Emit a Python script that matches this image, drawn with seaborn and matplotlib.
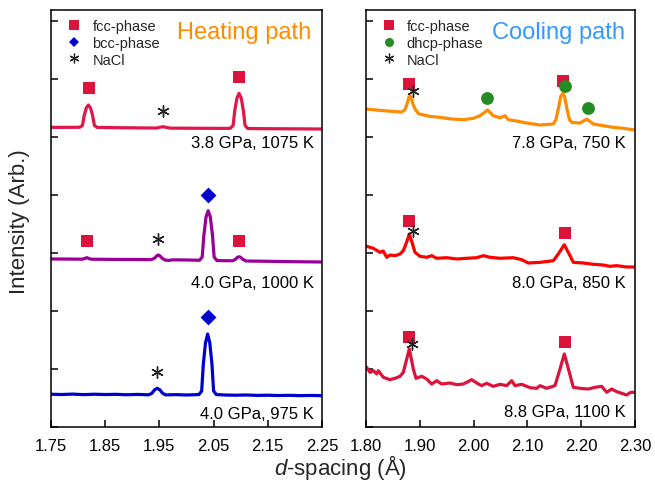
import numpy as np
import pandas as pd
import matplotlib
matplotlib.use("Agg")
import matplotlib.pyplot as plt
from matplotlib.lines import Line2D
import seaborn as sns

# ---------------- data ----------------
# Heating path (left panel)
heat1_label = "3.8 GPa, 1075 K"
heat1_d = [1.75, 1.77, 1.79, 1.803, 1.808, 1.811, 1.815, 1.819, 1.823, 1.827, 1.830, 1.835,
           1.86, 1.90, 1.945, 1.951, 1.957, 1.963, 1.97, 2.00, 2.04, 2.07, 2.081, 2.086,
           2.089, 2.093, 2.097, 2.101, 2.105, 2.108, 2.113, 2.14, 2.18, 2.22, 2.25]
heat1_I = [5.167, 5.166, 5.167, 5.168, 5.20, 5.36, 5.50, 5.552, 5.50, 5.36, 5.20, 5.166,
           5.162, 5.158, 5.155, 5.168, 5.178, 5.165, 5.153, 5.152, 5.150, 5.149, 5.150, 5.20,
           5.45, 5.67, 5.753, 5.67, 5.45, 5.20, 5.147, 5.144, 5.142, 5.140, 5.138]

heat2_label = "4.0 GPa, 1000 K"
heat2_d = [1.75, 1.77, 1.79, 1.808, 1.812, 1.816, 1.820, 1.824, 1.86, 1.90, 1.935, 1.941,
           1.945, 1.948, 1.951, 1.955, 1.960, 1.966, 1.975, 2.00, 2.024, 2.029, 2.032, 2.036,
           2.040, 2.044, 2.048, 2.051, 2.056, 2.065, 2.085, 2.090, 2.094, 2.097, 2.100, 2.104,
           2.110, 2.15, 2.20, 2.25]
heat2_I = [2.897, 2.896, 2.895, 2.894, 2.905, 2.920, 2.905, 2.893, 2.890, 2.888, 2.886, 2.910,
           2.950, 2.966, 2.950, 2.910, 2.880, 2.872, 2.882, 2.880, 2.875, 2.930, 3.300, 3.620,
           3.729, 3.620, 3.300, 2.930, 2.870, 2.868, 2.866, 2.890, 2.925, 2.936, 2.925, 2.890,
           2.862, 2.857, 2.850, 2.845]

heat3_label = "4.0 GPa, 975 K"
heat3_d = [1.75, 1.77, 1.79, 1.81, 1.83, 1.85, 1.87, 1.89, 1.91, 1.93, 1.936, 1.941, 1.946,
           1.951, 1.956, 1.962, 1.98, 2.00, 2.015, 2.023, 2.028, 2.031, 2.035, 2.039, 2.043,
           2.047, 2.050, 2.055, 2.07, 2.09, 2.11, 2.13, 2.15, 2.17, 2.19, 2.21, 2.23, 2.25]
heat3_I = [0.565, 0.560, 0.567, 0.558, 0.565, 0.560, 0.563, 0.556, 0.562, 0.555, 0.580, 0.640,
           0.667, 0.640, 0.580, 0.553, 0.558, 0.552, 0.556, 0.560, 0.620, 1.080, 1.450, 1.603,
           1.450, 1.080, 0.620, 0.560, 0.552, 0.548, 0.552, 0.545, 0.548, 0.543, 0.546, 0.541,
           0.544, 0.540]

# Cooling path (right panel)
cool1_label = "7.8 GPa, 750 K"
cool1_d = [1.800, 1.832, 1.866, 1.872, 1.876, 1.8795, 1.8818, 1.884, 1.8875, 1.892, 1.898,
           1.919, 1.9375, 1.9593, 1.9809, 1.9995, 2.0119, 2.0262, 2.0366, 2.049, 2.0584,
           2.0645, 2.080, 2.0987, 2.1234, 2.148, 2.153, 2.1575, 2.162, 2.1656, 2.169, 2.1735,
           2.178, 2.183, 2.1978, 2.2102, 2.2225, 2.2411, 2.2597, 2.2783, 2.2968, 2.300]
cool1_I = [5.483, 5.454, 5.430, 5.470, 5.560, 5.680, 5.712, 5.680, 5.560, 5.470, 5.400,
           5.356, 5.339, 5.310, 5.299, 5.322, 5.367, 5.466, 5.367, 5.333, 5.367,
           5.299, 5.276, 5.241, 5.207, 5.224, 5.300, 5.490, 5.700, 5.753, 5.700, 5.490,
           5.300, 5.250, 5.241, 5.310, 5.224, 5.195, 5.167, 5.150, 5.126, 5.120]

cool2_label = "8.0 GPa, 850 K"
cool2_d = [1.8012, 1.8136, 1.826, 1.832, 1.8385, 1.8446, 1.8539, 1.8632, 1.8693, 1.8760,
           1.8805, 1.8850, 1.891, 1.9004, 1.9128, 1.9221, 1.9314, 1.950, 1.9686, 1.9872,
           2.0058, 2.018, 2.0305, 2.0491, 2.0738, 2.0894, 2.1017, 2.1234, 2.1481, 2.1574,
           2.1686, 2.1792, 2.1853, 2.2039, 2.2225, 2.2411, 2.2535, 2.266, 2.2846, 2.300]
cool2_I = [3.116, 3.081, 3.012, 3.034, 2.926, 2.966, 2.954, 2.983, 3.040, 3.200,
           3.328, 3.200, 3.012, 2.943, 2.926, 2.954, 2.909, 2.919, 2.897, 2.909,
           2.919, 2.954, 2.926, 2.909, 2.919, 2.885, 2.828, 2.839, 2.867, 2.983,
           3.143, 2.954, 2.839, 2.828, 2.805, 2.793, 2.770, 2.782, 2.759, 2.759]

cool3_label = "8.8 GPa, 1100 K"
cool3_d = [1.8012, 1.8074, 1.8136, 1.8199, 1.8229, 1.8322, 1.8446, 1.8539, 1.8632, 1.8693,
           1.8805, 1.888, 1.893, 1.9035, 1.9128, 1.9221, 1.9314, 1.9407, 1.9561, 1.9686,
           1.9809, 1.9964, 2.0058, 2.015, 2.0243, 2.0366, 2.0491, 2.0615, 2.0708, 2.077,
           2.0894, 2.1048, 2.1173, 2.1234, 2.1359, 2.1513, 2.1606, 2.1686, 2.1779, 2.1853,
           2.1978, 2.2132, 2.2257, 2.2381, 2.2474, 2.2567, 2.266, 2.2846, 2.292, 2.300]
cool3_I = [1.029, 0.943, 0.971, 0.914, 0.971, 0.857, 0.816, 0.839, 0.874, 0.943,
           1.345, 1.000, 0.839, 0.874, 0.828, 0.741, 0.798, 0.741, 0.759, 0.729,
           0.741, 0.816, 0.759, 0.713, 0.753, 0.701, 0.736, 0.713, 0.798, 0.713,
           0.736, 0.678, 0.667, 0.713, 0.667, 0.713, 1.000, 1.259, 0.943, 0.684,
           0.667, 0.655, 0.684, 0.701, 0.598, 0.655, 0.609, 0.552, 0.598, 0.598]

# Peak markers (d, intensity)
heat_fcc_d = [1.820, 2.097, 1.816, 2.097]
heat_fcc_I = [5.84, 6.04, 3.21, 3.21]
heat_bcc_d = [2.040, 2.039]
heat_bcc_I = [4.00, 1.89]
heat_nacl_d = [1.957, 1.948, 1.946]
heat_nacl_I = [5.45, 3.24, 0.95]

cool_fcc_d = [1.8806, 2.1656, 1.8806, 2.1699, 1.8806, 2.1699]
cool_fcc_I = [5.914, 5.96, 3.547, 3.345, 1.547, 1.46]
cool_dhcp_d = [2.0255, 2.170, 2.212]
cool_dhcp_I = [5.667, 5.874, 5.50]
cool_nacl_d = [1.888, 1.888, 1.885]
cool_nacl_I = [5.788, 3.384, 1.431]

heat_xticks = [1.75, 1.85, 1.95, 2.05, 2.15, 2.25]
cool_xticks = [1.80, 1.90, 2.00, 2.10, 2.20, 2.30]
y_ticks = [0, 1, 2, 3, 4, 5, 6, 7]

# ---------------- style ----------------
sns.set_theme(style="ticks")
plt.rcParams["font.family"] = ["Liberation Sans", "DejaVu Sans"]
plt.rcParams["mathtext.fontset"] = "custom"
plt.rcParams["mathtext.rm"] = "Liberation Sans"
plt.rcParams["mathtext.it"] = "Liberation Sans:italic"
plt.rcParams["axes.linewidth"] = 1.1

C_FCC = "#DC143C"
C_BCC = "#0000CD"
C_DHCP = "#228B22"
ASTER = (6, 2, 0)

fig = plt.figure(figsize=(6.55, 4.85), dpi=100)
axL = fig.add_axes([51 / 655, 57 / 485, 271 / 655, 417 / 485])
axR = fig.add_axes([366 / 655, 57 / 485, 269 / 655, 417 / 485])

LW = 2.3
for d, I, c in [(heat1_d, heat1_I, "#E0174A"), (heat2_d, heat2_I, "#990099"),
                (heat3_d, heat3_I, "#0000CC")]:
    sns.lineplot(x=d, y=I, ax=axL, color=c, linewidth=LW, estimator=None, sort=False)
for d, I, c in [(cool1_d, cool1_I, "#FF8C00"), (cool2_d, cool2_I, "#FF0000"),
                (cool3_d, cool3_I, "#DC143C")]:
    sns.lineplot(x=d, y=I, ax=axR, color=c, linewidth=LW, estimator=None, sort=False)

MS = 75
sns.scatterplot(x=heat_fcc_d, y=heat_fcc_I, ax=axL, marker="s", color=C_FCC, s=MS, linewidth=0, zorder=5)
sns.scatterplot(x=heat_bcc_d, y=heat_bcc_I, ax=axL, marker="D", color=C_BCC, s=65, linewidth=0, zorder=5)
axL.scatter(heat_nacl_d, heat_nacl_I, marker=ASTER, color="#222222", s=70, linewidths=1.0, zorder=5)

sns.scatterplot(x=cool_fcc_d, y=cool_fcc_I, ax=axR, marker="s", color=C_FCC, s=MS, linewidth=0, zorder=5)
sns.scatterplot(x=cool_dhcp_d, y=cool_dhcp_I, ax=axR, marker="o", color=C_DHCP, s=85, linewidth=0, zorder=5)
axR.scatter(cool_nacl_d, cool_nacl_I, marker=ASTER, color="#222222", s=70, linewidths=1.0, zorder=6)

# condition labels
for txt, y in [(heat1_label, 4.897), (heat2_label, 2.50), (heat3_label, 0.24)]:
    axL.text(2.2352, y, txt, ha="right", va="center", fontsize=12, color="black")
for txt, y in [(cool1_label, 4.897), (cool2_label, 2.50), (cool3_label, 0.26)]:
    axR.text(2.2833, y, txt, ha="right", va="center", fontsize=12, color="black")

axL.text(1.982, 6.81, "Heating path", ha="left", va="center", fontsize=17, color="#FF8C00")
axR.text(2.034, 6.81, "Cooling path", ha="left", va="center", fontsize=17, color="#3399FF")

# legends
def handle(marker, color, ms, mew=0):
    return Line2D([], [], linestyle="None", marker=marker, color=color, markersize=ms,
                  markeredgewidth=mew)

legL = axL.legend(handles=[handle("s", C_FCC, 6.5), handle("D", C_BCC, 5.5),
                           handle(ASTER, "#222222", 7, 0.9)],
                  labels=["fcc-phase", "bcc-phase", "NaCl"],
                  loc="upper left", bbox_to_anchor=(0.059, 0.979), frameon=False,
                  fontsize=10.5, handlelength=1.0, handletextpad=0.75, labelspacing=0.2,
                  borderpad=0, borderaxespad=0)
legR = axR.legend(handles=[handle("s", C_FCC, 6.5), handle("o", C_DHCP, 6.5),
                           handle(ASTER, "#222222", 7, 0.9)],
                  labels=["fcc-phase", "dhcp-phase", "NaCl"],
                  loc="upper left", bbox_to_anchor=(0.057, 0.979), frameon=False,
                  fontsize=10.5, handlelength=1.0, handletextpad=0.75, labelspacing=0.2,
                  borderpad=0, borderaxespad=0)

for ax, ticks in [(axL, heat_xticks), (axR, cool_xticks)]:
    ax.set_xlim(ticks[0], ticks[-1])
    ax.set_ylim(0, 7.19)
    ax.set_xticks(ticks)
    ax.set_xticklabels([f"{t:.2f}" for t in ticks], fontsize=12)
    ax.set_yticks(y_ticks)
    ax.set_yticklabels([])
    ax.tick_params(axis="both", direction="in", length=5, width=1.1, top=False, right=False,
                   colors="black", pad=8)
    for s in ax.spines.values():
        s.set_visible(True)
        s.set_color("black")
    ax.set_xlabel("")
    ax.set_ylabel("")

fig.text(20 / 655, 1 - 222 / 485, "Intensity (Arb.)", rotation=90, ha="center", va="center",
         fontsize=16)
fig.text(340 / 655, 1 - 468 / 485, r"$d$-spacing (Å)", ha="center", va="center", fontsize=16)

fig.savefig("out.png", dpi=100)
